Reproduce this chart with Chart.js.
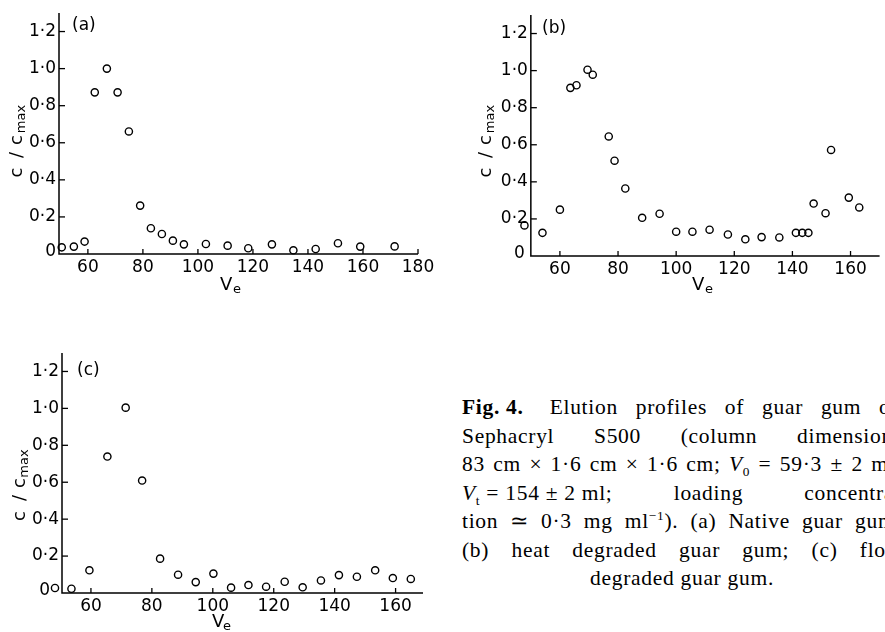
<!DOCTYPE html>
<html><head><meta charset="utf-8">
<script src="https://cdn.jsdelivr.net/npm/chart.js@4.4.1/dist/chart.umd.min.js"></script>
<style>
html,body{margin:0;padding:0;background:#fff;}
body{width:885px;height:632px;overflow:hidden;position:relative;}
canvas.pane{position:absolute;}
#cap{position:absolute;left:462px;top:393px;width:440px;font-family:"Liberation Serif","Times New Roman",serif;font-size:21.5px;letter-spacing:0.7px;color:#000;}
#cap .l{height:28.5px;line-height:28.5px;text-align:justify;text-align-last:justify;}
#cap .c{text-align:center;text-align-last:center;}
#cap sub,#cap sup{font-size:0.62em;line-height:0;}
#cap .ib{display:inline-block;}
</style></head>
<body>
<canvas id="pa" class="pane" width="440" height="300" style="left:0;top:0;width:440px;height:300px"></canvas>
<canvas id="pb" class="pane" width="445" height="300" style="left:440px;top:0;width:445px;height:300px"></canvas>
<canvas id="pc" class="pane" width="440" height="312" style="left:0;top:320px;width:440px;height:312px"></canvas>
<div id="cap">
<div class="l"><b class="ib">Fig. 4.</b><span class="ib" style="width:26px"></span>Elution profiles of guar gum on</div>
<div class="l">Sephacryl S500 (column dimensions</div>
<div class="l">83 cm × 1·6 cm × 1·6 cm; <i>V</i><sub>0</sub> = 59·3 ± 2 ml;</div>
<div class="l"><span class="ib"><i>V</i><sub>t</sub> = 154 ± 2 ml;</span> loading concentra-</div>
<div class="l">tion ≃ 0·3 mg ml<sup>−1</sup>). (a) Native guar gum;</div>
<div class="l">(b) heat degraded guar gum; (c) flow</div>
<div class="l c">degraded guar gum.</div>
</div>
<script>
// ---- data ----
const veA = [50.5,54.9,58.8,62.5,66.9,70.8,74.9,79.0,82.9,86.9,90.9,94.9,102.9,110.8,118.3,126.9,134.7,142.8,150.9,159.0,171.5];
const cA  = [0.036,0.040,0.067,0.872,1.000,0.872,0.661,0.261,0.139,0.108,0.072,0.052,0.054,0.045,0.031,0.052,0.020,0.027,0.058,0.040,0.041];

const veB = [47.8,54.0,60.0,63.6,65.7,69.5,71.3,76.8,78.8,82.5,88.3,94.3,100.0,105.6,111.5,117.8,123.8,129.4,135.5,141.2,143.4,145.5,147.3,151.4,153.3,159.4,163.0];
const cB  = [0.165,0.125,0.250,0.907,0.921,1.005,0.978,0.645,0.514,0.364,0.206,0.228,0.131,0.131,0.142,0.116,0.090,0.102,0.100,0.125,0.125,0.125,0.283,0.231,0.572,0.315,0.262];

const veC = [48.2,53.6,59.5,65.4,71.4,76.8,82.7,88.6,94.4,100.2,106.0,111.7,117.5,123.6,129.5,135.5,141.4,147.3,153.3,159.1,165.0];
const cC  = [0.027,0.023,0.123,0.739,1.004,0.609,0.186,0.099,0.059,0.105,0.029,0.043,0.034,0.061,0.031,0.068,0.097,0.088,0.123,0.081,0.076];

// tick values
const xTicksA = [60,80,100,120,140,160,180];
const xTicksBC = [60,80,100,120,140,160];
const yTicks = [0,0.2,0.4,0.6,0.8,1.0,1.2];

const panelTags = ['(a)','(b)','(c)'];
const yTitleMain = ['c','/','c'];
const yTitleSub = 'max';
const xTitleMain = 'V';
const xTitleSub = 'e';

const FONT = '"DejaVu Sans", sans-serif';

function fmtY(v) {
  return Math.abs(v) < 1e-9 ? '0' : v.toFixed(1).replace('.', '·');
}

const decor = {
  id: 'decor',
  afterDraw(chart, args, o) {
    const ctx = chart.ctx, xs = chart.scales.x, ys = chart.scales.y;
    const ax = xs.getPixelForValue(o.axisVal);
    ctx.save();
    ctx.strokeStyle = '#000';
    // axis lines (x axis starts at the y axis)
    ctx.lineWidth = 1.5;
    ctx.beginPath();
    ctx.moveTo(ax, ys.top); ctx.lineTo(ax, ys.bottom); ctx.lineTo(xs.right, ys.bottom);
    ctx.stroke();
    // inward tick marks
    ctx.lineWidth = 1.3;
    xs.ticks.forEach(t => {
      const px = xs.getPixelForValue(t.value);
      ctx.beginPath(); ctx.moveTo(px, ys.bottom); ctx.lineTo(px, ys.bottom - 5); ctx.stroke();
    });
    ys.ticks.forEach(t => {
      if (Math.abs(t.value) < 1e-9) return;
      const py = ys.getPixelForValue(t.value);
      ctx.beginPath(); ctx.moveTo(ax, py); ctx.lineTo(ax + 6, py); ctx.stroke();
    });
    ctx.fillStyle = '#000';
    // y tick labels, right-aligned against the y axis
    ctx.font = '17px ' + FONT;
    ctx.textAlign = 'right';
    ctx.textBaseline = 'middle';
    ys.ticks.forEach(t => {
      const zero = Math.abs(t.value) < 1e-9;
      ctx.fillText(fmtY(t.value), ax - 3 - (zero ? o.zeroGap : 0), ys.getPixelForValue(t.value) - (zero ? 2 : 0));
    });
    ctx.textBaseline = 'alphabetic';
    ctx.textAlign = 'left';
    ctx.fillText(o.tag, o.tagX, o.tagY);
    ctx.font = '18px ' + FONT;
    ctx.fillText(xTitleMain, o.vx, o.vy);
    ctx.font = '13px ' + FONT;
    ctx.fillText(xTitleSub, o.ex, o.vy + 3);
    // rotated y title
    ctx.translate(o.bx, 0);
    ctx.rotate(-Math.PI / 2);
    ctx.textAlign = 'center';
    ctx.font = '18px ' + FONT;
    ctx.fillText(yTitleMain[0], -o.c1, 0);
    ctx.fillText(yTitleMain[1], -o.sl, 0);
    ctx.fillText(yTitleMain[2], -o.c2, 0);
    ctx.font = '13px ' + FONT;
    ctx.fillText(yTitleSub, -o.mx, 3);
    ctx.restore();
  }
};

// g: axisPx / rightPx are canvas-local pixel positions of the y axis and the x-axis end
function makeChart(id, xv, yv, xt, g, d) {
  const ppu = (g.rightPx - g.axisPx) / (g.xmax - g.axisVal);
  const leftPx = g.axisPx - (g.axisVal - g.xmin) * ppu;
  d.axisVal = g.axisVal;
  new Chart(document.getElementById(id), {
    type: 'scatter',
    data: { datasets: [{
      data: xv.map((x, i) => ({ x: x, y: yv[i] })),
      pointStyle: 'circle', pointRadius: 3.6, pointBorderWidth: 1.4,
      borderColor: '#000', backgroundColor: 'rgba(0,0,0,0)', clip: false
    }]},
    options: {
      responsive: false, animation: false, events: [],
      layout: { padding: { top: g.top, right: g.cw - g.rightPx, left: 0, bottom: 0 } },
      plugins: { legend: { display: false }, tooltip: { enabled: false }, decor: d },
      scales: {
        x: {
          type: 'linear', position: 'bottom', bounds: 'data',
          grid: { display: false, drawTicks: false },
          border: { display: false },
          ticks: { color: '#000', padding: 3, maxRotation: 0, autoSkip: false,
                   font: { family: FONT, size: 17 } },
          afterDataLimits(sc) { sc.min = g.xmin; sc.max = g.xmax; },
          afterBuildTicks(sc) { sc.ticks = xt.map(v => ({ value: v })); },
          afterFit(sc) { sc.height = g.ch - g.bottomPx; }
        },
        y: {
          type: 'linear', position: 'left', bounds: 'data',
          grid: { display: false, drawTicks: false },
          border: { display: false },
          ticks: { display: false },
          afterDataLimits(sc) { sc.min = 0; sc.max = 1.3; },
          afterBuildTicks(sc) { sc.ticks = yTicks.map(v => ({ value: v })); },
          afterFit(sc) { sc.width = leftPx; }
        }
      }
    },
    plugins: [decor]
  });
}

makeChart('pa', veA, cA, xTicksA,
  { cw: 440, ch: 300, top: 13, bottomPx: 254, axisPx: 59, rightPx: 418, axisVal: 49.5, xmin: 49.5, xmax: 180 },
  { tag: panelTags[0], tagX: 72, tagY: 30, vx: 220, ex: 233, vy: 290, bx: 22, c1: 172.5, sl: 155, c2: 140, mx: 119, zeroGap: 0 });
makeChart('pb', veB, cB, xTicksBC,
  { cw: 445, ch: 300, top: 15, bottomPx: 256, axisPx: 91, rightPx: 445, axisVal: 50, xmin: 46.5, xmax: 170 },
  { tag: panelTags[1], tagX: 102, tagY: 33, vx: 252, ex: 265, vy: 290, bx: 51, c1: 172.5, sl: 155, c2: 140, mx: 119, zeroGap: 3 });
makeChart('pc', veC, cC, xTicksBC,
  { cw: 440, ch: 312, top: 33, bottomPx: 273, axisPx: 62, rightPx: 423, axisVal: 50.5, xmin: 46.5, xmax: 169 },
  { tag: panelTags[2], tagX: 77, tagY: 55, vx: 212, ex: 223, vy: 307, bx: 25, c1: 196, sl: 178, c2: 163, mx: 143.5, zeroGap: 9 });
</script>
</body></html>
